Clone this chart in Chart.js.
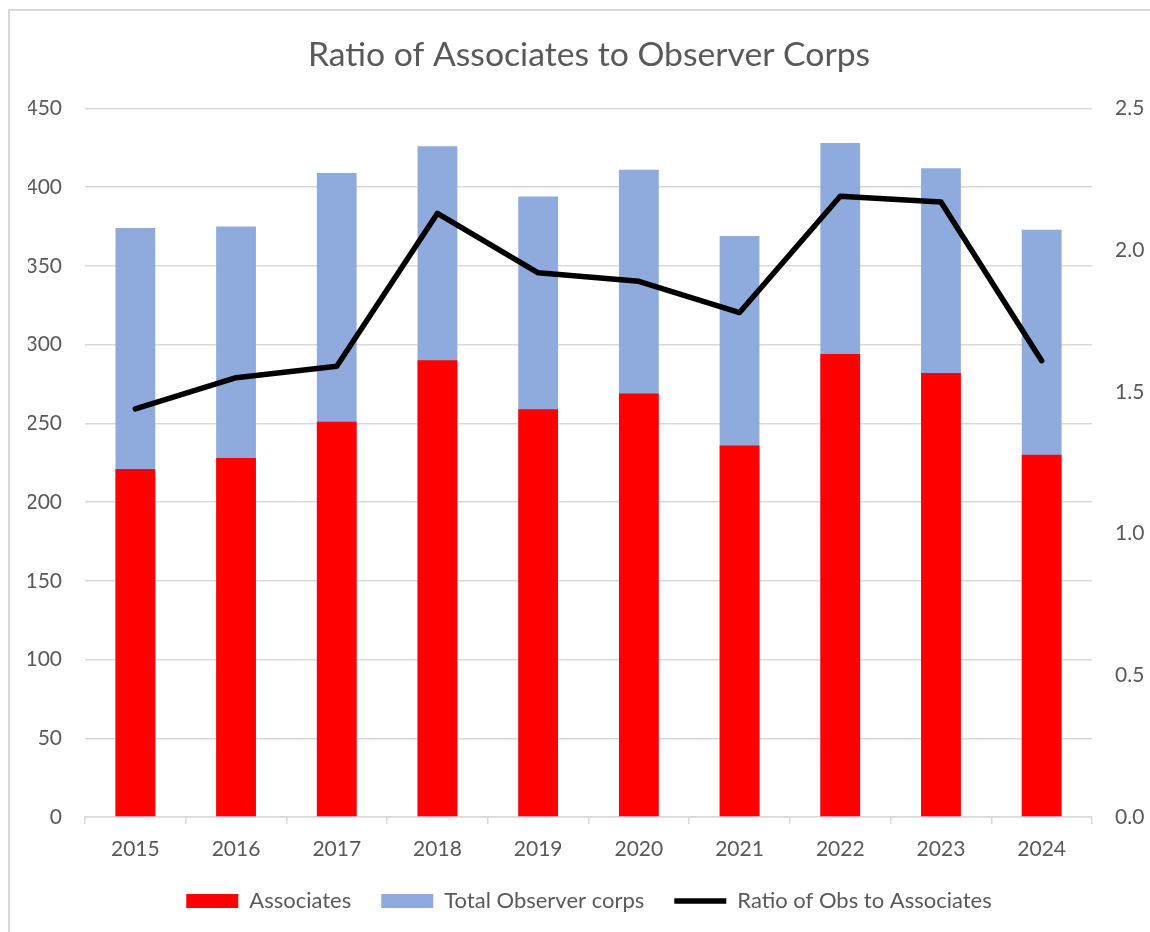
<!DOCTYPE html>
<html>
<head>
<meta charset="utf-8">
<title>Ratio of Associates to Observer Corps</title>
<script src="https://cdn.jsdelivr.net/npm/chart.js@4.4.0/dist/chart.umd.min.js"></script>
<style>
  html, body { margin: 0; padding: 0; background: #ffffff; }
  #wrap { position: relative; width: 1150px; height: 932px; overflow: hidden; }
  #frame { position: absolute; left: 8px; top: 9px; width: 1200px; height: 1000px; border: 2px solid #d9d9d9; box-sizing: border-box; }
  #chart { position: absolute; left: 0; top: 0; }
</style>
</head>
<body>
<div id="wrap">
  <div id="frame"></div>
  <canvas id="chart" width="1150" height="932"></canvas>
</div>
<script>
const years = ['2015', '2016', '2017', '2018', '2019', '2020', '2021', '2022', '2023', '2024'];
const associates = [221, 228, 251, 290, 259, 269, 236, 294, 282, 230];
const totalObserverCorps = [374, 375, 409, 426, 394, 411, 369, 428, 412, 373];
const ratioObsToAssociates = [1.44, 1.55, 1.59, 2.13, 1.92, 1.89, 1.78, 2.19, 2.17, 1.61];

document.addEventListener("DOMContentLoaded", () => {
  const textColor = '#595959';
  const gridColor = '#d9d9d9';
  const fontFamily = 'Lato, "Noto Sans", sans-serif';

  const ctx = document.getElementById('chart').getContext('2d');

  new Chart(ctx, {
    type: 'bar',
    data: {
      labels: years,
      datasets: [
        {
          label: 'Associates',
          data: associates,
          backgroundColor: '#ff0000',
          borderWidth: 0,
          yAxisID: 'y',
          order: 1,
          categoryPercentage: 0.395,
          barPercentage: 1
        },
        {
          label: 'Total Observer corps',
          data: totalObserverCorps,
          backgroundColor: '#8faadc',
          borderWidth: 0,
          yAxisID: 'y',
          order: 2,
          categoryPercentage: 0.395,
          barPercentage: 1
        },
        {
          type: 'line',
          label: 'Ratio of Obs to Associates',
          data: ratioObsToAssociates,
          borderColor: '#000000',
          backgroundColor: '#000000',
          borderWidth: 5.5,
          borderCapStyle: 'round',
          borderJoinStyle: 'round',
          pointRadius: 0,
          pointHoverRadius: 0,
          tension: 0,
          fill: false,
          yAxisID: 'y2',
          order: 0
        }
      ]
    },
    options: {
      responsive: false,
      animation: false,
      devicePixelRatio: 1,
      layout: {
        padding: { left: 28, right: 0, top: 0, bottom: 10 }
      },
      plugins: {
        title: {
          display: true,
          text: 'Ratio of Associates to Observer Corps',
          color: textColor,
          font: { family: fontFamily, size: 33.7, weight: 'normal' },
          lineHeight: 1.2,
          padding: { top: 35, bottom: 33 }
        },
        legend: {
          position: 'bottom',
          labels: {
            color: textColor,
            font: { family: fontFamily, size: 22 },
            usePointStyle: true,
            pointStyleWidth: 52,
            boxHeight: 14,
            padding: 30,
            generateLabels: (chart) => {
              const items = Chart.defaults.plugins.legend.labels.generateLabels(chart);
              items.forEach(item => {
                item.pointStyle = item.datasetIndex === 2 ? 'line' : 'rect';
              });
              return items.sort((a, b) => a.datasetIndex - b.datasetIndex);
            }
          }
        },
        tooltip: { enabled: false }
      },
      scales: {
        x: {
          stacked: true,
          offset: true,
          grid: {
            offset: true,
            drawOnChartArea: false,
            drawTicks: true,
            tickLength: 7,
            color: gridColor,
            lineWidth: 1.5
          },
          border: { display: true, color: gridColor, width: 1.5 },
          ticks: {
            color: textColor,
            font: { family: fontFamily, size: 21 },
            padding: 13,
            maxRotation: 0
          },
          afterFit: (scale) => { scale.height = 43; }
        },
        y: {
          position: 'left',
          stacked: false,
          min: 0,
          max: 450,
          grid: {
            color: gridColor,
            lineWidth: 1.5,
            drawTicks: false
          },
          border: { display: false },
          ticks: {
            stepSize: 50,
            color: textColor,
            font: { family: fontFamily, size: 21 },
            padding: 23
          },
          afterFit: (scale) => { scale.width = 57; }
        },
        y2: {
          position: 'right',
          stacked: false,
          min: 0,
          max: 2.5,
          grid: { display: false, drawTicks: false },
          border: { display: false },
          ticks: {
            stepSize: 0.5,
            color: textColor,
            font: { family: fontFamily, size: 21 },
            padding: 23,
            callback: (value) => Number(value).toFixed(1)
          },
          afterFit: (scale) => { scale.width = 58; }
        }
      }
    }
  });
});
</script>
</body>
</html>
